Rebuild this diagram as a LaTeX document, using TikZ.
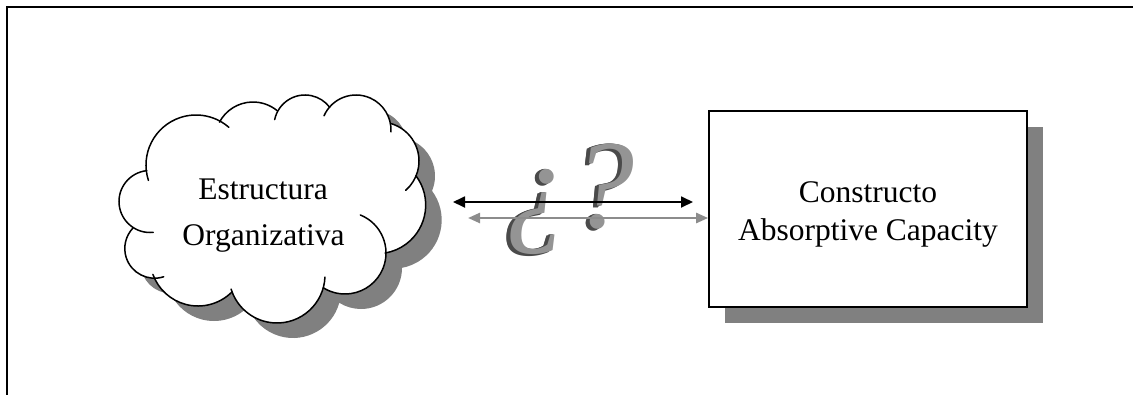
\documentclass[tikz,border=0pt]{standalone}
\usepackage{fontspec}
\setmainfont{Liberation Serif}
\usetikzlibrary{arrows.meta}

\definecolor{shadowgray}{HTML}{808080}
\definecolor{arrowgray}{HTML}{8C8C8C}
\definecolor{glyphface}{HTML}{949494}
\definecolor{glyphside}{HTML}{4A4A4A}

% closed outline of the cloud (pixel-like units, y grows downwards)
\def\cloudoutline{(146.5,172.0) arc[start angle=171.9,end angle=299.2,radius=50pt]
  -- (219.45,122.16) arc[start angle=208,end angle=310,radius=38pt]
  -- (277.89,110.97) arc[start angle=209,end angle=323,radius=31pt]
  -- (329.59,107.04) arc[start angle=221,end angle=348,radius=35pt]
  -- (391.40,123.70) arc[start angle=287,end angle=386,radius=39pt]
  -- (415.89,175.69) arc[start angle=323,end angle=440.5,radius=48.7pt]
  -- (386,253) arc[start angle=360,end angle=482,radius=41pt]
  -- (323.19,288.07) arc[start angle=15.8,end angle=159,radius=48pt]
  -- (231.94,291.94) arc[start angle=45,end angle=155,radius=48pt]
  -- (154.5,278.2) arc[start angle=90,end angle=224,radius=29.7pt]
  -- (133.57,227.79) arc[start angle=122,end angle=264,radius=31pt]
  -- cycle}

\begin{document}
\begin{tikzpicture}[x=1pt,y=1pt,yscale=-1,
  frameline/.style={line width=2pt,line join=miter},
  cloudline/.style={line width=1.5pt,line cap=round},
  boxnode/.style={draw,line width=1.7pt,fill=white,minimum width=318pt,minimum height=196pt,inner sep=0pt},
  shadowbox/.style={fill=shadowgray,minimum width=318pt,minimum height=196pt,inner sep=0pt},
  txt/.style={font=\fontsize{31.5}{38}\selectfont,inner sep=0pt,anchor=base},
  blackarrow/.style={line width=1.8pt,{Triangle[length=12pt,width=11pt]}-{Triangle[length=12pt,width=11pt]}},
  grayarrow/.style={draw=arrowgray,line width=2.4pt,{Triangle[length=12pt,width=10pt]}-{Triangle[length=12pt,width=10pt]}},
  qmark/.style={font=\fontsize{126}{126}\selectfont\itshape,inner sep=0pt,anchor=base}]

\useasboundingbox (0,0) rectangle (1133,394);

% page frame (top and left rules)
\draw[frameline] (1140,7) -- (7,7) -- (7,400);

% cloud: shadow, body, outline with inner hooks
\fill[shadowgray,shift={(16,15)}] \cloudoutline;
\fill[white] \cloudoutline;
\draw[cloudline] (196,165) ++(162:50pt) arc[start angle=162,end angle=311,radius=50pt];
\draw[cloudline] (253,140) ++(208:38pt) arc[start angle=208,end angle=310,radius=38pt];
\draw[cloudline] (305,126) ++(192:31pt) arc[start angle=192,end angle=323,radius=31pt];
\draw[cloudline] (356,130) ++(204:35pt) arc[start angle=204,end angle=363,radius=35pt];
\draw[cloudline] (380,161) ++(286:39pt) arc[start angle=286,end angle=409,radius=39pt];
\draw[cloudline] (377,205) ++(323:48.7pt) arc[start angle=323,end angle=440.5,radius=48.7pt];
\draw[cloudline] (345,253) ++(292:41pt) arc[start angle=292,end angle=482,radius=41pt];
\draw[cloudline] (277,275) ++(2.5:48pt) arc[start angle=2.5,end angle=163,radius=48pt];
\draw[cloudline] (198,258) ++(45:48pt) arc[start angle=45,end angle=160,radius=48pt];
\draw[cloudline] (154.5,248.5) ++(72:29.7pt) arc[start angle=72,end angle=224,radius=29.7pt];
\draw[cloudline] (150,201.5) ++(84:31pt) arc[start angle=84,end angle=264,radius=31pt];

\node[txt] (est) at (263,199) {Estructura};
\node[txt] (org) at (263.5,245) {Organizativa};

% box with its shadow
\node[shadowbox] (boxshadow) at (884,225) {};
\node[boxnode] (box) at (868,209) {};
\node[txt] (con) at (868,202) {Constructo};
\node[txt] (abs) at (868,240) {Absorptive Capacity};

% extruded question marks
\foreach \k in {1,...,5} {
  \node[qmark,text=glyphside] at (537-0.9*\k,228+0.4*\k) {¿};
  \node[qmark,text=glyphside] at (603-0.9*\k,227+0.4*\k) {?};
}
\node[qmark,text=glyphface] (qopen) at (537,228) {¿};
\node[qmark,text=glyphface] (qclose) at (603,227) {?};

% two-way arrows between the cloud and the box
\coordinate (blackL) at (453,202);
\coordinate (blackR) at (693,202);
\coordinate (grayL) at (468,218);
\draw[grayarrow] (grayL) -- (grayL -| box.west);
\draw[blackarrow] (blackL) -- (blackR);
\end{tikzpicture}
\end{document}
